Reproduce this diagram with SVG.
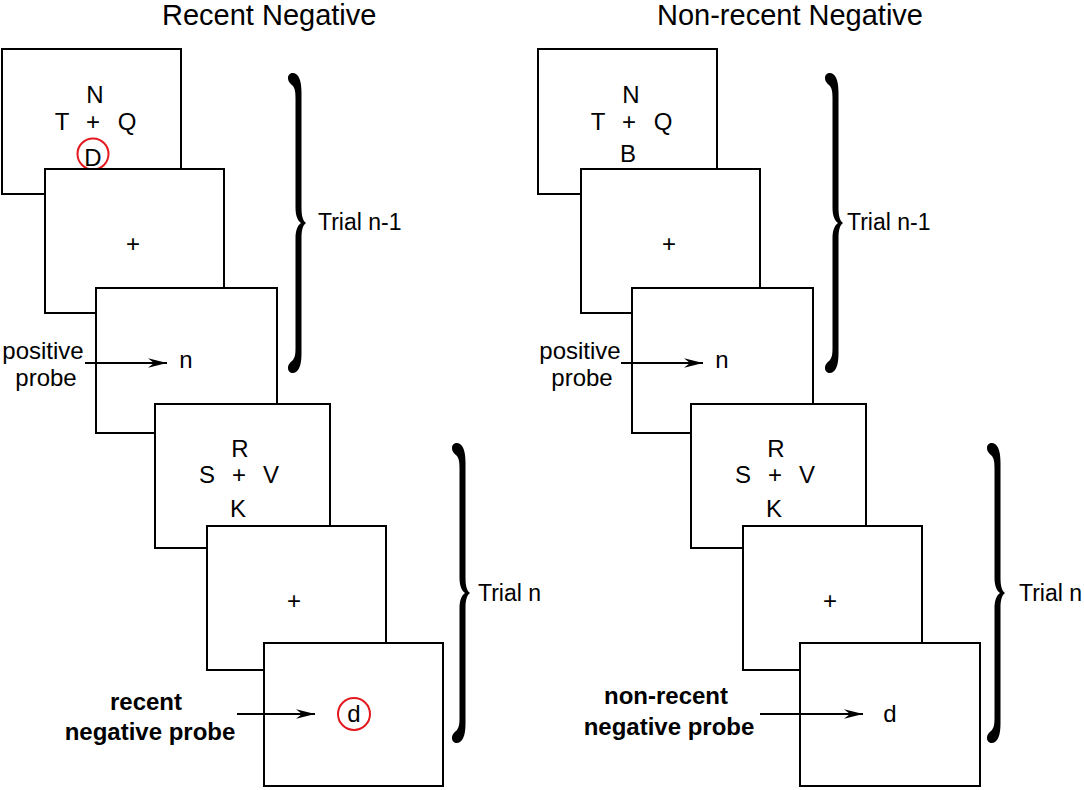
<svg xmlns="http://www.w3.org/2000/svg" width="1084" height="790" viewBox="0 0 1084 790">
<style>
  .box { fill: #ffffff; stroke: #000000; stroke-width: 2; }
  .t { font-family: "Liberation Sans", Arial, sans-serif; font-size: 24px; fill: #000000; text-anchor: middle; }
  .title { font-family: "Liberation Sans", Arial, sans-serif; font-size: 29px; fill: #000000; }
  .trial { font-family: "Liberation Sans", Arial, sans-serif; font-size: 23px; fill: #000000; }
  .bold { font-family: "Liberation Sans", Arial, sans-serif; font-size: 24px; font-weight: bold; fill: #000000; text-anchor: middle; }
  .ring { fill: none; stroke: #e3191f; stroke-width: 2; }
  .arrow { stroke: #000000; stroke-width: 2; fill: none; marker-end: url(#head); }
</style>
<defs>
  <marker id="head" markerUnits="userSpaceOnUse" markerWidth="22" markerHeight="12" viewBox="-20 -6 22 12" refX="0" refY="0" orient="auto">
    <path d="M0,0 L-19,-4.8 L-13,0 L-19,4.8 Z" fill="#000000"/>
  </marker>
  <path id="brace" d="M0,5 C0,0 5,-1 8,1 C12,4 13.5,10 13.5,20 L13.5,135 C13.5,143 15,148 18,150 C15,152 13.5,157 13.5,165 L13.5,280 C13.5,290 12,296 8,299 C5,301 0,300 0,295 C0,291 3,289 5,287 C7,284 7.5,281 7.5,275 L7.5,165 C7.5,157 10,152 13,150 C10,148 7.5,143 7.5,135 L7.5,25 C7.5,19 7,16 5,13 C3,11 0,9 0,5 Z" fill="#000000"/>
</defs>
<rect width="1084" height="790" fill="#ffffff"/>

<g id="titles">
  <text class="title" x="162" y="25">Recent Negative</text>
  <text class="title" x="657" y="25">Non-recent Negative</text>
</g>

<!-- Left panel -->
<g id="L-screen1">
  <rect class="box" x="2" y="49" width="179" height="145"/>
  <text class="t" x="95" y="103">N</text>
  <text class="t" x="62" y="130">T</text>
  <text class="t" x="93" y="130">+</text>
  <text class="t" x="127" y="130">Q</text>
  <text class="t" x="93" y="166">D</text>
  <circle class="ring" cx="93" cy="154" r="15.5"/>
</g>
<g id="L-screen2">
  <rect class="box" x="45" y="169" width="179" height="144"/>
  <text class="t" x="133" y="252">+</text>
</g>
<g id="L-screen3">
  <rect class="box" x="96" y="288" width="181" height="145"/>
  <text class="t" x="186" y="368">n</text>
  <text class="t" x="43" y="359">positive</text>
  <text class="t" x="46" y="386">probe</text>
</g>
<g id="L-screen4">
  <rect class="box" x="155" y="404" width="175" height="144"/>
  <text class="t" x="240" y="457">R</text>
  <text class="t" x="207" y="483">S</text>
  <text class="t" x="239" y="483">+</text>
  <text class="t" x="271" y="483">V</text>
  <text class="t" x="238" y="517">K</text>
</g>
<g id="L-screen5">
  <rect class="box" x="207" y="526" width="179" height="144"/>
  <text class="t" x="294" y="609">+</text>
</g>
<g id="L-screen6">
  <rect class="box" x="264" y="643" width="179" height="143"/>
  <text class="t" x="354" y="722">d</text>
  <circle class="ring" cx="354" cy="714" r="16"/>
  <text class="bold" x="146" y="710">recent</text>
  <text class="bold" x="150" y="740">negative probe</text>
</g>

<!-- Right panel -->
<g id="R-screen1">
  <rect class="box" x="538" y="49" width="179" height="145"/>
  <text class="t" x="631" y="103">N</text>
  <text class="t" x="598" y="130">T</text>
  <text class="t" x="629" y="130">+</text>
  <text class="t" x="663" y="130">Q</text>
  <text class="t" x="628" y="162">B</text>
</g>
<g id="R-screen2">
  <rect class="box" x="581" y="169" width="179" height="144"/>
  <text class="t" x="669" y="252">+</text>
</g>
<g id="R-screen3">
  <rect class="box" x="632" y="288" width="181" height="145"/>
  <text class="t" x="722" y="368">n</text>
  <text class="t" x="580" y="359">positive</text>
  <text class="t" x="582" y="386">probe</text>
</g>
<g id="R-screen4">
  <rect class="box" x="691" y="404" width="175" height="144"/>
  <text class="t" x="776" y="457">R</text>
  <text class="t" x="743" y="483">S</text>
  <text class="t" x="775" y="483">+</text>
  <text class="t" x="807" y="483">V</text>
  <text class="t" x="774" y="517">K</text>
</g>
<g id="R-screen5">
  <rect class="box" x="743" y="526" width="179" height="144"/>
  <text class="t" x="830" y="609">+</text>
</g>
<g id="R-screen6">
  <rect class="box" x="800" y="643" width="180" height="143"/>
  <text class="t" x="890" y="722">d</text>
  <text class="bold" x="666" y="704">non-recent</text>
  <text class="bold" x="669" y="735">negative probe</text>
</g>

<g id="braces">
  <use href="#brace" transform="translate(288,73)"/>
  <text class="trial" x="318" y="230">Trial n-1</text>
  <use href="#brace" transform="translate(452,443)"/>
  <text class="trial" x="478" y="601">Trial n</text>
  <use href="#brace" transform="translate(825,73)"/>
  <text class="trial" x="847" y="230">Trial n-1</text>
  <use href="#brace" transform="translate(987,443)"/>
  <text class="trial" x="1019" y="601">Trial n</text>
</g>

<g id="connectors">
  <line class="arrow" x1="85" y1="363" x2="167" y2="363"/>
  <line class="arrow" x1="237" y1="714" x2="315" y2="714"/>
  <line class="arrow" x1="621" y1="363" x2="703" y2="363"/>
  <line class="arrow" x1="760" y1="714" x2="863" y2="714"/>
</g>
</svg>
